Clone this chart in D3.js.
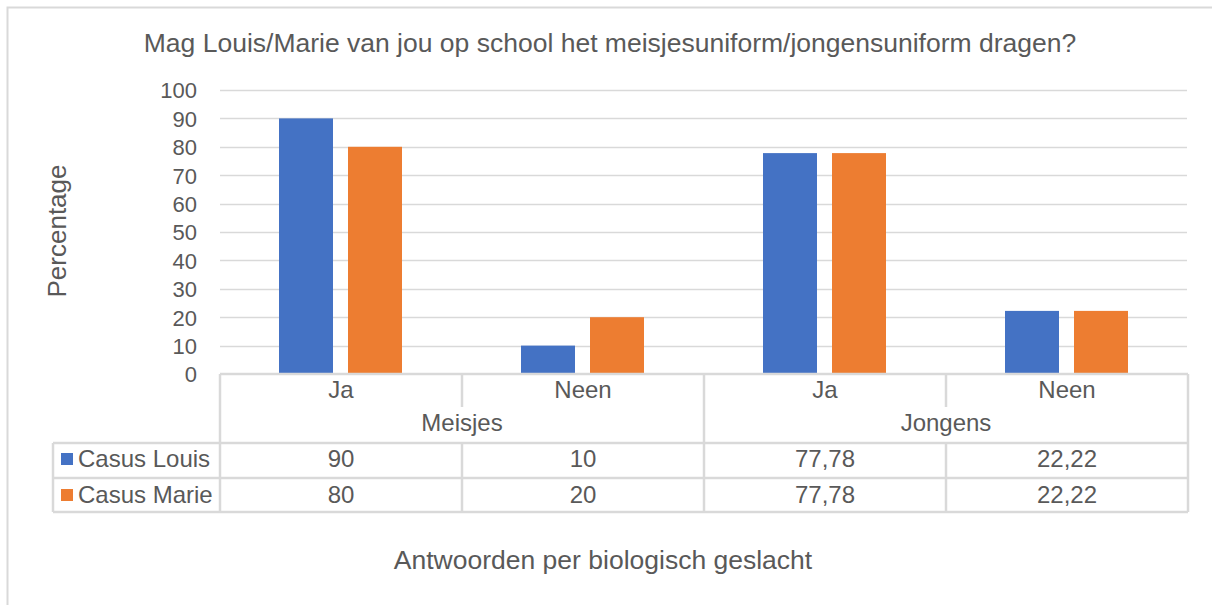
<!DOCTYPE html>
<html><head><meta charset="utf-8">
<script src="https://cdn.jsdelivr.net/npm/d3@7"></script>
<style>body{margin:0;background:#fff}svg{display:block;font-family:"Liberation Sans",Arial,sans-serif}</style>
</head><body>
<svg id="c" width="1212" height="605"></svg>
<script>
const categories = ["Ja","Neen","Ja","Neen"];
const groups = ["Meisjes","Jongens"];
const seriesNames = ["Casus Louis","Casus Marie"];
const louis = [90,10,77.78,22.22];
const marie = [80,20,77.78,22.22];
const yTicks = [0,10,20,30,40,50,60,70,80,90,100];
const colors = ["#4472C4","#ED7D31"];
const series = [louis, marie];

const svg = d3.select("#c");
const grid = "#D9D9D9", txt = "#595959";
const L=220, R=1188, T=90, B=374;
const y = d3.scaleLinear().domain([0,100]).range([B,T]);
const x = d3.scaleBand().domain(d3.range(categories.length)).range([L,R]).padding(0);
const g = d3.scaleBand().domain(groups).range([L,R]);
const bw = 54, gap = 15, off = 59;

// outer border
svg.append("path").attr("d","M7.5,605 V7.5 H1212").attr("fill","none").attr("stroke",grid).attr("stroke-width",2);

// title
svg.append("text").attr("x",610).attr("y",52).attr("text-anchor","middle").attr("fill",txt).style("font-size","26.5px")
  .text("Mag Louis/Marie van jou op school het meisjesuniform/jongensuniform dragen?");

// gridlines
svg.append("g").selectAll("line").data(yTicks.filter(d=>d>0)).join("line")
  .attr("x1",L).attr("x2",R-1).attr("y1",d=>Math.round(y(d))+0.5).attr("y2",d=>Math.round(y(d))+0.5)
  .attr("stroke",grid).attr("stroke-width",1.3);

// y axis labels
const ax = svg.append("g").attr("transform",`translate(${L},0)`)
  .call(d3.axisLeft(y).tickValues(yTicks).tickSize(0).tickPadding(23));
ax.select(".domain").remove();
ax.selectAll("text").attr("fill",txt).attr("dy","0.36em").style("font-size","22px").style("font-family","'Liberation Sans',Arial,sans-serif");

// bars
series.forEach((s,si)=>{
  svg.append("g").selectAll("rect").data(s).join("rect")
    .attr("x",(d,i)=>x(i)+off+si*(bw+gap)).attr("width",bw)
    .attr("y",d=>y(d)).attr("height",d=>B-y(d)).attr("fill",colors[si]);
});

// table lines
const tl = svg.append("g").attr("stroke",grid).attr("stroke-width",2.5).attr("fill","none");
tl.append("line").attr("x1",L).attr("x2",R).attr("y1",B).attr("y2",B);
[443,478,512].forEach(yy=>tl.append("line").attr("x1",53).attr("x2",R).attr("y1",yy).attr("y2",yy));
tl.append("line").attr("x1",53).attr("x2",53).attr("y1",443).attr("y2",512);
[L, g("Jongens"), R].forEach(xx=>tl.append("line").attr("x1",xx).attr("x2",xx).attr("y1",B).attr("y2",512));
[x(1), x(3)].forEach(xx=>{
  tl.append("line").attr("x1",xx).attr("x2",xx).attr("y1",B).attr("y2",407);
  tl.append("line").attr("x1",xx).attr("x2",xx).attr("y1",443).attr("y2",512);
});

const tt = svg.append("g").attr("fill",txt).style("font-size","24px").attr("text-anchor","middle");
categories.forEach((c,i)=>tt.append("text").attr("x",x(i)+x.bandwidth()/2).attr("y",398).text(c));
groups.forEach(gr=>tt.append("text").attr("x",g(gr)+g.bandwidth()/2).attr("y",431).text(gr));
const fmt = v => String(v).replace(".",",");
series.forEach((s,si)=>{
  s.forEach((v,i)=>tt.append("text").attr("x",x(i)+x.bandwidth()/2).attr("y",467+si*36).text(fmt(v)));
  svg.append("rect").attr("x",61).attr("y",453+si*36).attr("width",12).attr("height",12).attr("fill",colors[si]);
  svg.append("text").attr("x",78).attr("y",467+si*36).attr("fill",txt).style("font-size","24px").text(seriesNames[si]);
});

// axis titles
svg.append("text").attr("transform","translate(66,231) rotate(-90)").attr("text-anchor","middle").attr("fill",txt).style("font-size","26px").text("Percentage");
svg.append("text").attr("x",603).attr("y",569).attr("text-anchor","middle").attr("fill",txt).style("font-size","26.5px").text("Antwoorden per biologisch geslacht");
</script>
</body></html>
